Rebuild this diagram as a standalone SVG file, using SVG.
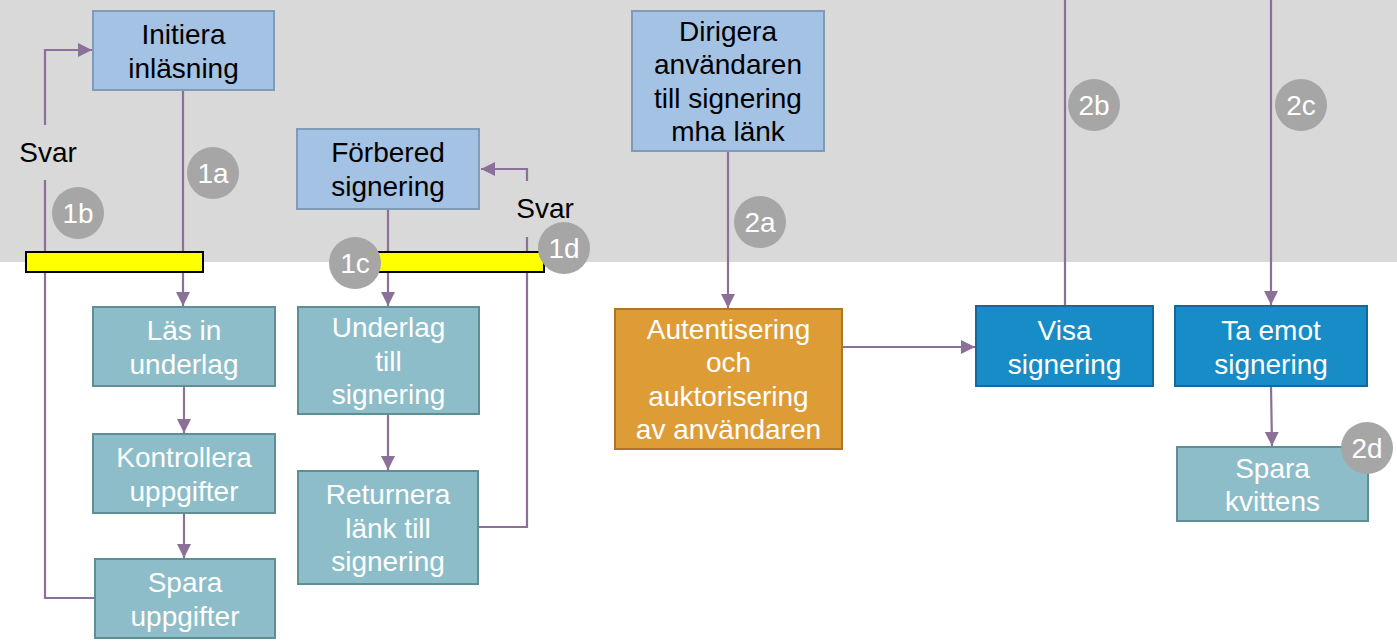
<svg xmlns="http://www.w3.org/2000/svg" width="1397" height="642" viewBox="0 0 1397 642">
<defs>
<marker id="ah" markerUnits="userSpaceOnUse" markerWidth="16" markerHeight="16" refX="14" refY="7" orient="auto">
<path d="M0,0 L14,7 L0,14 Z" fill="#8B7099"/>
</marker>
<style>
text{font-family:"Liberation Sans",Arial,sans-serif;font-size:28px;text-anchor:middle}
.lb rect{fill:#A4C2E3;stroke:#7F9BB8;stroke-width:2}
.lb text{fill:#000}
.tl rect{fill:#8DBDC8;stroke:#5E8F94;stroke-width:2}
.tl text{fill:#fff}
.db rect{fill:#178CC6;stroke:#13699A;stroke-width:2}
.db text{fill:#fff}
.or rect{fill:#DE9C37;stroke:#AE7428;stroke-width:2}
.or text{fill:#fff}
.c{fill:none;stroke:#8B7099;stroke-width:2.2}
.bar{fill:#FFFF00;stroke:#000;stroke-width:2}
.bd circle{fill:#A6A6A6}
.bd text{fill:#fff}
.lbl{fill:#000}
</style>
</defs>
<rect x="0" y="0" width="1397" height="262" fill="#D9D9D9"/>

<g id="connectors">
<path class="c" d="M45,125 V50 H92" marker-end="url(#ah)"/>
<path class="c" d="M45,180 V598 H95"/>
<path class="c" d="M183,90 V306" marker-end="url(#ah)"/>
<path class="c" d="M184,386 V433" marker-end="url(#ah)"/>
<path class="c" d="M184,513 V558" marker-end="url(#ah)"/>
<path class="c" d="M388,209 V306" marker-end="url(#ah)"/>
<path class="c" d="M388,414 V470" marker-end="url(#ah)"/>
<path class="c" d="M478,527 H527 V237"/>
<path class="c" d="M527,181 V169 H481" marker-end="url(#ah)"/>
<path class="c" d="M728,151 V308" marker-end="url(#ah)"/>
<path class="c" d="M842,347 H975" marker-end="url(#ah)"/>
<path class="c" d="M1065,0 V306"/>
<path class="c" d="M1271,0 V305" marker-end="url(#ah)"/>
<path class="c" d="M1271,386 L1272,446" marker-end="url(#ah)"/>
</g>

<rect class="bar" x="26" y="252" width="177" height="20"/>
<rect class="bar" x="378" y="252" width="166" height="20"/>

<text class="lbl" x="48" y="162">Svar</text>
<text class="lbl" x="545" y="218">Svar</text>

<g id="n-initiera" class="lb"><rect x="93" y="11" width="181" height="79"/><text x="183.5" y="44">Initiera</text><text x="183.5" y="77.5">inläsning</text></g>
<g id="n-forbered" class="lb"><rect x="297" y="129" width="182" height="80"/><text x="388" y="162">Förbered</text><text x="388" y="196">signering</text></g>
<g id="n-dirigera" class="lb"><rect x="632" y="11" width="192" height="140"/><text x="728" y="40.6">Dirigera</text><text x="728" y="74.2">användaren</text><text x="728" y="107.8">till signering</text><text x="728" y="141.4">mha länk</text></g>

<g id="n-lasin" class="tl"><rect x="93" y="307" width="182" height="79"/><text x="184" y="340">Läs in</text><text x="184" y="373.5">underlag</text></g>
<g id="n-kontrollera" class="tl"><rect x="93" y="434" width="182" height="79"/><text x="184" y="467">Kontrollera</text><text x="184" y="500.5">uppgifter</text></g>
<g id="n-spara" class="tl"><rect x="95" y="559" width="180" height="79"/><text x="185" y="592">Spara</text><text x="185" y="625.5">uppgifter</text></g>
<g id="n-underlag" class="tl"><rect x="298" y="307" width="181" height="107"/><text x="388.5" y="337">Underlag</text><text x="388.5" y="370.5">till</text><text x="388.5" y="404">signering</text></g>
<g id="n-returnera" class="tl"><rect x="298" y="471" width="180" height="113"/><text x="388" y="504">Returnera</text><text x="388" y="537.5">länk till</text><text x="388" y="571">signering</text></g>

<g id="n-autent" class="or"><rect x="615" y="309" width="227" height="140"/><text x="728.5" y="338.6">Autentisering</text><text x="728.5" y="372.2">och</text><text x="728.5" y="405.8">auktorisering</text><text x="728.5" y="439.4">av användaren</text></g>
<g id="n-visa" class="db"><rect x="976" y="306" width="177" height="80"/><text x="1064.5" y="340">Visa</text><text x="1064.5" y="373.5">signering</text></g>
<g id="n-taemot" class="db"><rect x="1175" y="306" width="192" height="80"/><text x="1271" y="340">Ta emot</text><text x="1271" y="373.5">signering</text></g>
<g id="n-kvittens" class="tl"><rect x="1177" y="447" width="191" height="74"/><text x="1272.5" y="477.5">Spara</text><text x="1272.5" y="511">kvittens</text></g>

<g class="bd">
<g id="b1a"><circle cx="213" cy="173" r="26"/><text x="213" y="183">1a</text></g>
<g id="b1b"><circle cx="78" cy="213" r="26"/><text x="78" y="223">1b</text></g>
<g id="b1c"><circle cx="355" cy="263" r="26"/><text x="355" y="273">1c</text></g>
<g id="b1d"><circle cx="564" cy="248" r="26"/><text x="564" y="258">1d</text></g>
<g id="b2a"><circle cx="760" cy="222" r="26"/><text x="760" y="232">2a</text></g>
<g id="b2b"><circle cx="1094" cy="105" r="26"/><text x="1094" y="115">2b</text></g>
<g id="b2c"><circle cx="1301" cy="105" r="26"/><text x="1301" y="115">2c</text></g>
<g id="b2d"><circle cx="1367" cy="448" r="26"/><text x="1367" y="458">2d</text></g>
</g>
</svg>
